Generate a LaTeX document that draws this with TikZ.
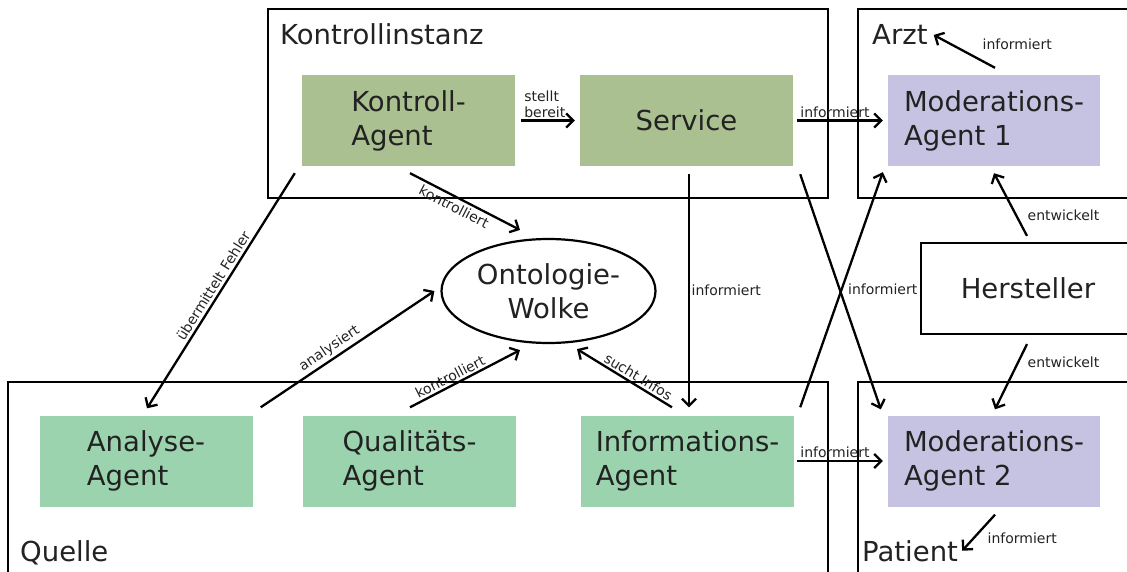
\documentclass[tikz,border=0pt]{standalone}
\usepackage{fontspec}
\setmainfont{DejaVu Sans}
\usetikzlibrary{arrows.meta,calc,shapes.geometric}
\definecolor{ctrlgreen}{HTML}{AAC091}
\definecolor{srcgreen}{HTML}{9BD3AE}
\definecolor{modviolet}{HTML}{C6C3E2}
\definecolor{ink}{HTML}{222222}
\newcommand\diagbig{\fontsize{27.5}{34}\selectfont}
\newcommand\diagsmall{\fontsize{14}{15.5}\selectfont}

\begin{document}
\begin{tikzpicture}[x=1pt,y=-1pt,
  frame/.style={draw=black, line width=2.2pt, inner sep=0pt},
  agent/.style={inner sep=0pt, minimum width=213pt, minimum height=91pt,
                text=ink, font=\diagbig, align=left},
  title/.style={anchor=base west, font=\diagbig, text=ink, inner sep=0pt},
  conn/.style={draw=black, line width=2.3pt,
               -{Straight Barb[length=7pt,width=14pt]}},
  lbl/.style={font=\diagsmall, text=ink, inner sep=1.5pt}]

\useasboundingbox (0,0) rectangle (1127,572);
\clip (0,0) rectangle (1127,572);

% containers
\node[frame, minimum width=560pt, minimum height=189pt] (ki) at (548,103.5) {};
\node[frame, minimum width=277pt, minimum height=189pt] (arzt) at (996.5,103.5) {};
\node[frame, minimum width=214pt, minimum height=91pt, font=\diagbig, text=ink] (hs) at (1028,288.5) {Hersteller};
\node[frame, minimum width=277pt, minimum height=198pt] (pat) at (996.5,481) {};
\node[frame, minimum width=820pt, minimum height=198pt] (src) at (418,481) {};

\node[title] (kil) at (280,45) {Kontrollinstanz};
\node[title] (arztl) at (872,45) {Arzt};
\node[title] (quellel) at (20,561) {Quelle};
\node[title] (patl) at (862,561) {Patient};

% agents
\node[agent, fill=ctrlgreen] (ka) at (408.5,120.5) {Kontroll-\\Agent};
\node[agent, fill=ctrlgreen] (sv) at (686.5,120.5) {Service};
\node[agent, fill=modviolet, minimum width=212pt] (m1) at (994,120.5) {Moderations-\\Agent 1};
\node[agent, fill=modviolet, minimum width=212pt] (m2) at (994,461) {Moderations-\\Agent 2};
\node[agent, fill=srcgreen] (aa) at (146,461) {Analyse-\\Agent};
\node[agent, fill=srcgreen] (qa) at (409.5,461) {Qualitäts-\\Agent};
\node[agent, fill=srcgreen] (ia) at (687.5,461) {Informations-\\Agent};

\node[ellipse, draw=black, line width=2.2pt, minimum width=214pt, minimum height=104pt,
      inner sep=0pt, font=\diagbig, text=ink, align=center] (ow) at (548.5,291) {Ontologie-\\Wolke};

% connectors
\draw[conn] ($(ka.east)+(6,0)$) -- node[lbl, pos=0, above right, align=left, inner sep=2pt] {stellt\\bereit} ($(sv.west)+(-5,0)$);
\draw[conn] ($(sv.east)+(4,0)$) -- node[lbl, pos=0, above right, inner sep=2pt] {informiert} ($(m1.west)+(-5,0)$);
\draw[conn] ($(m1.north)+(1,-7)$) -- node[lbl, pos=0, anchor=west, xshift=-15pt, yshift=24pt] {informiert} ($(arztl.east)+(6,0)$);

\draw[conn] ($(ka.south west)+(-7,7)$) -- node[lbl, sloped, above, midway, inner sep=2.5pt] {übermittelt Fehler} ($(aa.north)+(1,-7)$);
\draw[conn] ($(ka.south)+(1.5,7)$) -- node[lbl, sloped, below, pos=0.44, inner sep=3pt] {kontrolliert} ($(ow.north)+(-28.5,-8)$);
\draw[conn] ($(aa.north east)+(8,-8)$) -- node[lbl, sloped, above, pos=0.43, inner sep=2.5pt] {analysiert} ($(ow.west)+(-6,0)$);
\draw[conn] ($(qa.north)+(0.5,-8)$) -- node[lbl, sloped, above, pos=0.4, inner sep=2pt] {kontrolliert} ($(ow.south)+(-28.5,6)$);
\draw[conn] ($(ia.north)+(-15.5,-8)$) -- node[lbl, sloped, above, pos=0.4, inner sep=2pt] {sucht Infos} ($(ow.south)+(28.5,5)$);

\draw[conn] ($(sv.south)+(2.5,8)$) -- node[lbl, right, midway] {informiert} ($(ia.north)+(1.5,-8)$);
\draw[conn] ($(sv.south east)+(7,8)$) -- ($(m2.north west)+(-7,-6)$);
\draw[conn] ($(ia.north east)+(6,-8)$) -- node[lbl, midway, anchor=west, xshift=4pt] {informiert} ($(m1.south west)+(-5,6)$);
\draw[conn] ($(ia.east)+(3,0)$) -- node[lbl, pos=0, above right, inner sep=2pt] {informiert} ($(m2.west)+(-5,0)$);

\draw[conn] ($(hs.north)+(-1,-6)$) -- node[lbl, pos=0, anchor=west, xshift=-2pt, yshift=21pt] {entwickelt} ($(m1.south)+(0,7)$);
\draw[conn] ($(hs.south)+(-1,9)$) -- node[lbl, pos=0, anchor=west, xshift=-2pt, yshift=-18pt] {entwickelt} ($(m2.north)+(1,-6)$);
\draw[conn] ($(m2.south)+(1,8)$) -- node[lbl, pos=0, anchor=west, xshift=-10pt, yshift=-24pt] {informiert} ($(patl.east)+(4,0)$);
\end{tikzpicture}
\end{document}
